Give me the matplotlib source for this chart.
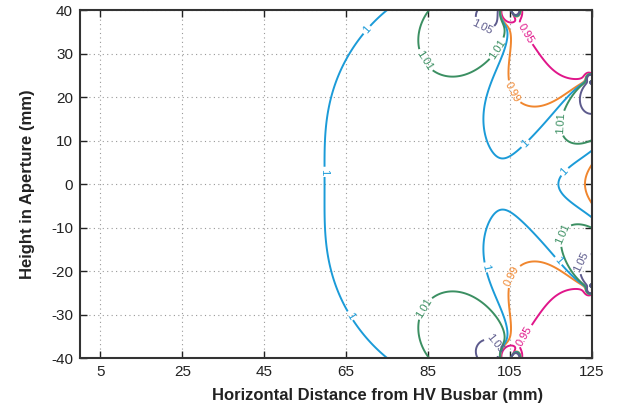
import numpy as np
import matplotlib

matplotlib.use("Agg")
import matplotlib.pyplot as plt

plt.rcParams["font.family"] = ["Liberation Sans", "DejaVu Sans"]
plt.rcParams["axes.unicode_minus"] = False

# contour levels, colours and label text
levels = [0.95, 0.99, 1.0, 1.01, 1.05]
level_colors = ["#e0168a", "#f0862e", "#1b9bd8", "#3b8f62", "#5d5b8d"]
level_text = ["0.95", "0.99", "1", "1.01", "1.05"]

# points in the upper half (field is mirror symmetric in y)
trace_095 = [(106.8, 38.5), (107.5, 36.0), (108.3, 33.1), (109.5, 30.1), (112.1, 27.0),
             (116.3, 25.7), (121.1, 25.5), (123.5, 25.3)]
trace_099 = [(104.6, 38.0), (104.5, 35.0), (103.4, 26.9), (103.6, 23.2), (105.5, 19.3),
             (108.3, 18.6), (110.7, 17.9), (114.6, 19.3), (119.4, 21.6), (122.0, 22.8),
             (123.5, 2.0), (122.8, 0.0)]
trace_100 = [(73.0, 40.0), (69.5, 35.0), (65.8, 27.6), (63.6, 19.3), (62.9, 0.0),
             (104.4, 38.0), (103.5, 34.0), (102.4, 31.5), (99.8, 23.2), (98.3, 16.3),
             (98.8, 11.7), (101.0, 6.5), (104.9, 4.8), (109.5, 8.5), (113.8, 13.1),
             (118.7, 17.7), (121.5, 20.5), (123.5, 22.5),
             (117.0, 4.0), (115.0, 0.0), (121.5, 5.8)]
trace_101 = [(82.8, 40.0), (81.8, 34.7), (83.5, 30.1), (86.4, 26.7), (90.0, 25.5),
             (94.0, 25.7), (98.5, 27.8), (101.7, 31.5), (104.1, 36.0), (123.0, 22.2),
             (121.0, 20.0), (118.0, 16.5), (116.7, 14.3), (117.5, 11.5), (120.0, 9.5),
             (124.0, 8.7)]
trace_105 = [(94.5, 39.0), (96.0, 36.5), (98.0, 35.7), (101.0, 36.6), (103.2, 38.5),
             (124.5, 20.4), (123.3, 18.5), (123.1, 17.0), (123.5, 15.3), (124.5, 14.4)]
traces = [trace_095, trace_099, trace_100, trace_101, trace_105]

# rough field values read between the contours
region_x = [0, 0, 0, 15, 30, 30, 45, 50, 50, 60, 80, 80, 90, 95, 100, 103, 106,
            110, 111, 104, 104, 103, 110, 100, 124, 112, 118, 124, 120, 125,
            58, 67, 78]
region_y = [0, 20, 40, 40, 0, 40, 40, 30, 0, 40, 0, 30, 10, 0, 0, 0, 0,
            0, 3, 2, 8, 14, 12, 38.5, 18, 36, 38, 32, 30, 0,
            0, 0, 40]
region_val = [0.995, 0.995, 0.995, 0.995, 0.996, 0.995, 0.995, 0.997, 0.998, 0.996,
              1.004, 1.005, 1.005, 1.004, 1.003, 1.002, 1.002,
              1.003, 1.002, 1.001, 0.998, 0.996, 0.996, 1.07, 1.07, 0.92, 0.9, 0.9, 0.92,
              0.985, 0.999, 1.001, 1.002]

# electrode edges where the contours meet
edge_x = [105.1, 125.1]
edge_y = [40.1, 23.8]

label_pos = [(62.9, 2.8), (70.6, 35), (66.5, -30), (84.7, 28.7), (99, 37.5),
             (107.8, 34), (102.4, 30.8), (105.3, 20.9), (109.5, 8.5), (117.5, 14),
             (117, 4), (118.2, -11.7), (122.8, -18), (117, -17.5), (105.3, -21),
             (98.5, -19.3), (84, -28.5), (101, -37), (108.3, -34.7)]


def edge_terms(x, y, xs, ys):
    # dipole and quadrupole kernels around an edge and its mirror image
    cols = [0] * 6
    for sy, sgn in ((ys, 1), (-ys, -1)):
        dx, dy = x - xs, (y - sy) * sgn
        r2 = dx**2 + dy**2
        r = np.sqrt(r2)
        cols[0] = cols[0] + dx / r2
        cols[1] = cols[1] + dy / r2
        cols[2] = cols[2] + dx / (r2 * r)
        cols[3] = cols[3] + dy / (r2 * r)
        cols[4] = cols[4] + (dx**2 - dy**2) / (r2 * r)
        cols[5] = cols[5] + 2 * dx * dy / (r2 * r)
    return cols


def basis(x, y):
    cols = [np.ones_like(x), x / 100, (x / 100) ** 2, (y / 40) ** 2,
            (x / 100) * (y / 40) ** 2,
            np.exp((x - 125) / 10) * np.exp(-((y / 12) ** 2))]
    for xs, ys in zip(edge_x, edge_y):
        cols += edge_terms(x, y, xs, ys)
    return np.stack(cols, axis=-1)


# fit a smooth field to the traced contours
pts = np.array([(px, py, lev) for lev, tr in zip(levels, traces) for px, py in tr])
A = basis(pts[:, 0], pts[:, 1])
b = pts[:, 2]
Ai = basis(np.array(region_x, float), np.array(region_y, float))
bi = np.array(region_val)

w = np.ones(len(b))
w_int = 1.0
h = 0.05
for _ in range(6):
    M = np.vstack([A * w[:, None], Ai * w_int])
    rhs = np.concatenate([b * w, bi * w_int])
    coef = np.linalg.lstsq(M, rhs, rcond=None)[0]
    gx = (basis(pts[:, 0] + h, pts[:, 1]) - basis(pts[:, 0] - h, pts[:, 1])) @ coef / (2 * h)
    gy = (basis(pts[:, 0], pts[:, 1] + h) - basis(pts[:, 0], pts[:, 1] - h)) @ coef / (2 * h)
    w = 1 / np.clip(np.hypot(gx, gy), 3e-4, None)
    w_int = 1500.0

xg = np.linspace(0, 125, 1001)
yg = np.linspace(-40, 40, 641)
X, Y = np.meshgrid(xg, yg)
Z = basis(X, Y) @ coef

fig = plt.figure(figsize=(6.23, 4.15), dpi=100)
ax = fig.add_axes([0.1284, 0.1373, 0.8218, 0.8386])

cs = ax.contour(X, Y, Z, levels=levels, colors=level_colors, linewidths=1.4)
ax.clabel(cs, levels, inline=True, inline_spacing=2, fontsize=8,
          fmt=dict(zip(levels, level_text)), manual=label_pos)

ax.set_xlim(0, 125)
ax.set_ylim(-40, 40)
ax.set_xticks([5, 25, 45, 65, 85, 105, 125])
ax.set_yticks(range(-40, 41, 10))
ax.tick_params(direction="in", top=True, right=True, length=5, width=1,
               labelsize=11, pad=5, colors="#222222")
ax.grid(True, linestyle=(0, (1, 3)), color="#999999", linewidth=0.8)
ax.set_axisbelow(True)
for s in ax.spines.values():
    s.set_linewidth(1.5)
    s.set_color("#333333")

ax.set_xlabel("Horizontal Distance from HV Busbar (mm)", fontsize=12, fontweight="bold", color="#222222")
ax.set_ylabel("Height in Aperture (mm)", fontsize=12, fontweight="bold", color="#222222")
ax.xaxis.set_label_coords(0.582, -0.085)
ax.yaxis.set_label_coords(-0.088, 0.5)

fig.savefig("out.png", dpi=100)
